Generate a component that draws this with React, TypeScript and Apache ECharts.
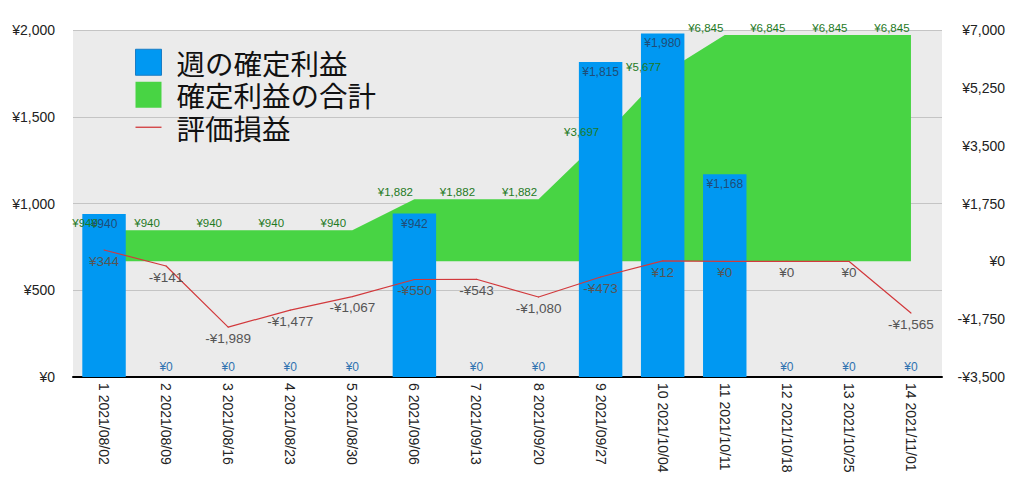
import React, { useEffect, useRef } from "react";
import * as echarts from "echarts";

const categories = [
  "1 2021/08/02", "2 2021/08/09", "3 2021/08/16", "4 2021/08/23", "5 2021/08/30",
  "6 2021/09/06", "7 2021/09/13", "8 2021/09/20", "9 2021/09/27", "10 2021/10/04",
  "11 2021/10/11", "12 2021/10/18", "13 2021/10/25", "14 2021/11/01",
];
const weeklyProfit = [940, 0, 0, 0, 0, 942, 0, 0, 1815, 1980, 1168, 0, 0, 0];
const cumulativeProfit = [940, 940, 940, 940, 940, 1882, 1882, 1882, 3697, 5677, 6845, 6845, 6845, 6845];
const unrealized = [344, -141, -1989, -1477, -1067, -550, -543, -1080, -473, 12, 0, 0, 0, -1565];
const seriesNames = ["週の確定利益", "確定利益の合計", "評価損益"];

const FONT = "'Liberation Sans', 'Noto Sans CJK JP', sans-serif";

const yen = (v: number) => (v < 0 ? "-" : "") + "¥" + Math.abs(v).toLocaleString("en-US");

export default function App() {
  const ref = useRef<HTMLDivElement>(null);
  useEffect(() => {
    if (!ref.current) return;
    const chart = echarts.init(ref.current, undefined, { renderer: "svg" });
    chart.setOption({
      animation: false,
      backgroundColor: "#ffffff",
      textStyle: { fontFamily: FONT },
      grid: {
        left: 73, right: 82, top: 30, bottom: 117,
        show: true, backgroundColor: "#ebebeb", borderWidth: 0,
      },
      legend: {
        orient: "vertical",
        left: 130, top: 43,
        itemWidth: 26, itemHeight: 26, itemGap: 4,
        textStyle: { fontSize: 28.5, lineHeight: 28, color: "#111", fontFamily: "'Noto Sans CJK JP', sans-serif", padding: [0, 0, 0, 10] },
        data: [
          { name: seriesNames[0], icon: "rect", itemStyle: { color: "#0098f2", borderColor: "#1a7cc4", borderWidth: 1 } },
          { name: seriesNames[1], icon: "rect", itemStyle: { color: "#48d444", opacity: 1 } },
          { name: seriesNames[2], icon: "path://M0 0 H20 V1 H0 Z", itemStyle: { color: "#d2393c" } },
        ],
      },
      xAxis: {
        type: "category",
        data: categories,
        axisLine: { lineStyle: { color: "#000", width: 2 } },
        axisTick: { show: false },
        axisLabel: { rotate: -90, interval: 0, fontSize: 14, color: "#222", margin: 6, fontFamily: FONT },
      },
      yAxis: [
        {
          type: "value", min: 0, max: 2000, interval: 500,
          axisLine: { show: false }, axisTick: { show: false },
          splitLine: { lineStyle: { color: "#c4c4c4", width: 1 } },
          axisLabel: { formatter: (v: number) => yen(v), fontSize: 14, color: "#222", margin: 18, fontFamily: FONT },
        },
        {
          type: "value", min: -3500, max: 7000, interval: 1750,
          axisLine: { show: false }, axisTick: { show: false },
          splitLine: { show: false },
          axisLabel: { formatter: (v: number) => yen(v), fontSize: 14, color: "#222", margin: 63, align: "right", fontFamily: FONT },
        },
      ],
      series: [
        {
          name: seriesNames[1],
          type: "line",
          yAxisIndex: 1,
          data: cumulativeProfit,
          z: 1,
          symbol: "none",
          itemStyle: { color: "#48d444" },
          lineStyle: { width: 0, color: "#48d444" },
          areaStyle: { color: "#48d444", opacity: 1 },
        },
        {
          name: seriesNames[0],
          type: "bar",
          yAxisIndex: 0,
          barWidth: "70%",
          z: 2,
          itemStyle: { color: "#0098f2" },
          data: weeklyProfit.map((v) => ({
            value: v,
            label: v > 0
              ? { position: "insideTop", distance: 4, color: "#1f4d78" }
              : { position: "top", distance: 4, color: "#2f72b0" },
          })),
          label: { show: true, formatter: (p: any) => yen(p.value), fontSize: 12, fontFamily: FONT },
        },
        {
          name: seriesNames[1],
          type: "line",
          yAxisIndex: 1,
          data: cumulativeProfit,
          z: 4,
          symbol: "circle",
          symbolSize: 0.1,
          itemStyle: { color: "#48d444" },
          lineStyle: { width: 0, color: "#48d444" },
          label: {
            show: true, position: "top", distance: 1, offset: [-19, 0],
            formatter: (p: any) => yen(p.value), fontSize: 11.5, color: "#1f7a1f", fontFamily: FONT,
          },
        },
        {
          name: seriesNames[2],
          type: "line",
          yAxisIndex: 1,
          data: unrealized,
          z: 3,
          symbol: "circle",
          symbolSize: 1,
          itemStyle: { color: "#d2393c" },
          lineStyle: { width: 1.2, color: "#d2393c" },
          label: {
            show: true, position: "bottom", distance: 4,
            formatter: (p: any) => yen(p.value), fontSize: 13.5, color: "#555", fontFamily: FONT,
          },
        },
      ],
    });
    return () => chart.dispose();
  }, []);
  return <div ref={ref} style={{ position: "fixed", left: 0, top: 0, width: 1024, height: 494 }} />;
}
